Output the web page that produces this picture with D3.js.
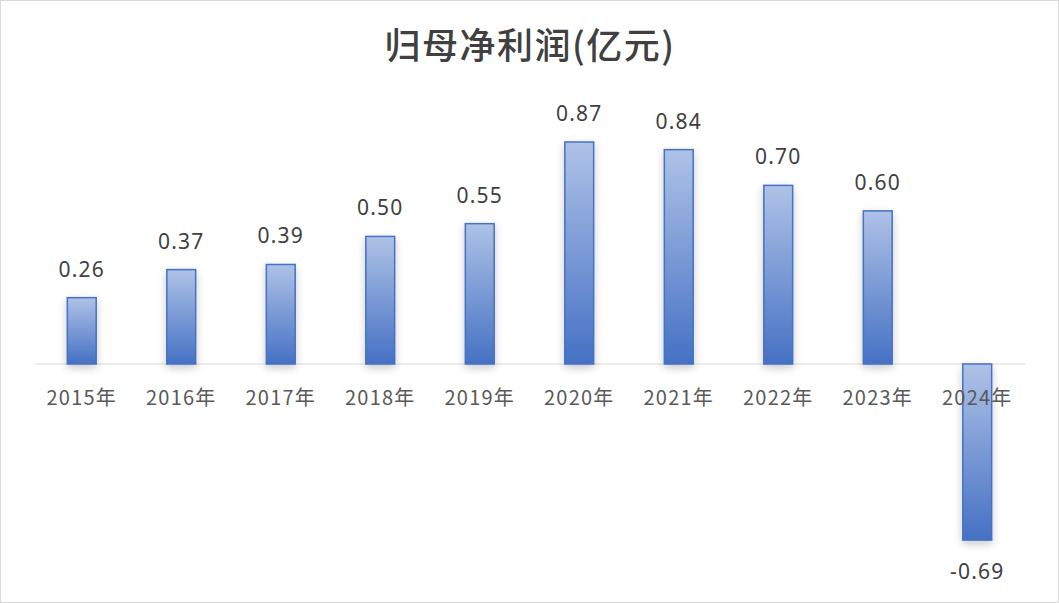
<!DOCTYPE html>
<html><head><meta charset="utf-8">
<script src="https://cdn.jsdelivr.net/npm/d3@7"></script>
<style>body{margin:0;background:#fff;} svg{display:block;}</style>
</head><body>
<svg id="c" width="1059" height="603"></svg>
<script>
const title = "归母净利润(亿元)";
const categories = ["2015年","2016年","2017年","2018年","2019年","2020年","2021年","2022年","2023年","2024年"];
const values = [0.26,0.37,0.39,0.50,0.55,0.87,0.84,0.70,0.60,-0.69];
const valueLabels = ["0.26","0.37","0.39","0.50","0.55","0.87","0.84","0.70","0.60","-0.69"];

const svg = d3.select("#c");
const W = 1059, H = 603;
svg.append("rect").attr("x",0.5).attr("y",0.5).attr("width",W-1).attr("height",H-1)
  .attr("fill","#fff").attr("stroke","#d9d9d9");

const defs = svg.append("defs");
const grad = defs.append("linearGradient").attr("id","g").attr("x1",0).attr("y1",0).attr("x2",0).attr("y2",1);
grad.append("stop").attr("offset","0%").attr("stop-color","#aec2e6");
grad.append("stop").attr("offset","100%").attr("stop-color","#4571c4");
const f = defs.append("filter").attr("id","sh").attr("x","-60%").attr("y","-20%").attr("width","220%").attr("height","140%");
f.append("feGaussianBlur").attr("in","SourceAlpha").attr("stdDeviation",4).attr("result","b");
f.append("feOffset").attr("in","b").attr("dx",0).attr("dy",3).attr("result","o");
f.append("feComponentTransfer").attr("in","o").attr("result","o2").append("feFuncA").attr("type","linear").attr("slope",0.22);
const m = f.append("feMerge"); m.append("feMergeNode").attr("in","o2"); m.append("feMergeNode").attr("in","SourceGraphic");

const x = d3.scaleBand().domain(categories).range([32, 1027]).paddingInner(0.71).paddingOuter(0.355);
const y = d3.scaleLinear().domain([0, 0.87]).range([364, 142]);

svg.append("text").attr("x",530).attr("y",59).attr("text-anchor","middle")
  .attr("font-family","'Noto Sans CJK SC', sans-serif").attr("font-size",36).attr("font-weight",500)
  .attr("letter-spacing",1.5).attr("fill","#404040").text(title);

// axis line
svg.append("line").attr("x1",35).attr("x2",1025).attr("y1",y(0)).attr("y2",y(0)).attr("stroke","#d9d9d9").attr("stroke-width",1.2);

svg.append("g").selectAll("rect").data(values).join("rect")
  .attr("x",(d,i)=>x(categories[i])).attr("width",x.bandwidth())
  .attr("y",d=>y(Math.max(0,d))).attr("height",d=>Math.abs(y(d)-y(0)))
  .attr("fill","url(#g)").attr("stroke","#4472c4").attr("stroke-width",1.5).attr("filter","url(#sh)");

svg.append("g").selectAll("text").data(categories).join("text")
  .attr("x",d=>x(d)+x.bandwidth()/2).attr("y",y(0)+41).attr("text-anchor","middle")
  .attr("font-family","'Noto Sans CJK SC', sans-serif").attr("font-size",20).attr("letter-spacing",1.2)
  .attr("fill","#595959").text(d=>d);

svg.append("g").selectAll("text").data(values).join("text")
  .attr("x",(d,i)=>x(categories[i])+x.bandwidth()/2)
  .attr("y",d=> d>=0 ? y(d)-21 : y(d)+39)
  .attr("text-anchor","middle").attr("font-family","'Noto Sans', sans-serif").attr("font-size",21)
  .attr("letter-spacing",1.2).attr("fill","#404040")
  .text((d,i)=>valueLabels[i]);
</script>
</body></html>
